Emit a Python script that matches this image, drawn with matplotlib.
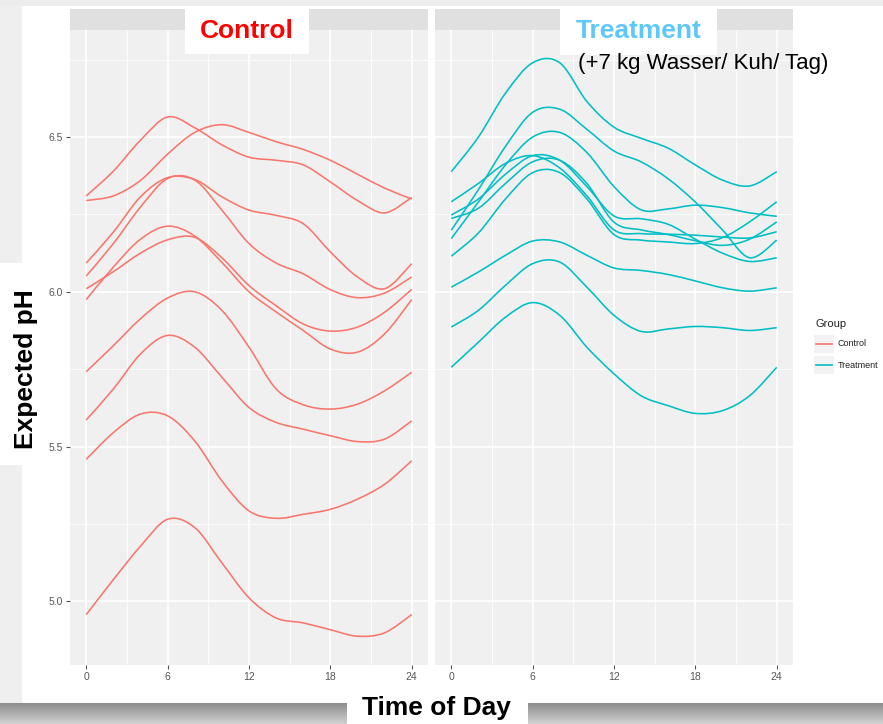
import numpy as np
import matplotlib
matplotlib.use('Agg')
import matplotlib.pyplot as plt
from matplotlib.patches import Rectangle, PathPatch
from matplotlib.lines import Line2D
from matplotlib.path import Path

plt.rcParams['font.family'] = ['Liberation Sans', 'DejaVu Sans']

# expected pH per cow, every 2 hours
hours = [0, 2, 4, 6, 8, 10, 12, 14, 16, 18, 20, 22, 24]

ctrl_1 = [6.31, 6.39, 6.49, 6.565, 6.53, 6.475, 6.435, 6.425, 6.41, 6.355, 6.295, 6.255, 6.305]
ctrl_2 = [6.295, 6.31, 6.36, 6.445, 6.515, 6.54, 6.515, 6.485, 6.46, 6.425, 6.38, 6.335, 6.30]
ctrl_3 = [6.093, 6.193, 6.307, 6.369, 6.363, 6.307, 6.264, 6.247, 6.22, 6.129, 6.048, 6.01, 6.091]
ctrl_4 = [6.051, 6.156, 6.274, 6.366, 6.361, 6.264, 6.156, 6.093, 6.058, 6.007, 5.981, 5.996, 6.048]
ctrl_5 = [6.01, 6.065, 6.125, 6.168, 6.176, 6.11, 6.02, 5.955, 5.896, 5.873, 5.886, 5.934, 6.008]
ctrl_6 = [5.975, 6.08, 6.17, 6.212, 6.18, 6.095, 6.0, 5.935, 5.875, 5.815, 5.805, 5.864, 5.975]
ctrl_7 = [5.742, 5.826, 5.913, 5.98, 6.0, 5.94, 5.821, 5.686, 5.635, 5.621, 5.637, 5.68, 5.74]
ctrl_8 = [5.586, 5.686, 5.799, 5.859, 5.821, 5.724, 5.626, 5.578, 5.556, 5.535, 5.516, 5.524, 5.583]
ctrl_9 = [5.459, 5.545, 5.605, 5.599, 5.518, 5.389, 5.292, 5.268, 5.281, 5.297, 5.33, 5.378, 5.454]
ctrl_10 = [4.957, 5.07, 5.178, 5.265, 5.238, 5.124, 5.011, 4.946, 4.93, 4.908, 4.887, 4.898, 4.957]

trt_1 = [6.388, 6.50, 6.642, 6.74, 6.74, 6.615, 6.532, 6.496, 6.464, 6.41, 6.361, 6.342, 6.388]
trt_2 = [6.199, 6.33, 6.47, 6.58, 6.59, 6.525, 6.455, 6.42, 6.365, 6.29, 6.20, 6.11, 6.167]
trt_3 = [6.172, 6.29, 6.41, 6.50, 6.515, 6.45, 6.34, 6.265, 6.268, 6.28, 6.272, 6.255, 6.244]
trt_4 = [6.291, 6.35, 6.415, 6.44, 6.40, 6.31, 6.20, 6.188, 6.186, 6.183, 6.177, 6.174, 6.194]
trt_5 = [6.248, 6.30, 6.38, 6.44, 6.425, 6.34, 6.245, 6.236, 6.218, 6.17, 6.125, 6.098, 6.110]
trt_6 = [6.237, 6.27, 6.35, 6.42, 6.425, 6.35, 6.225, 6.20, 6.185, 6.165, 6.15, 6.17, 6.226]
trt_7 = [6.115, 6.19, 6.30, 6.385, 6.385, 6.30, 6.185, 6.167, 6.161, 6.156, 6.175, 6.226, 6.291]
trt_8 = [6.015, 6.064, 6.118, 6.164, 6.161, 6.118, 6.077, 6.069, 6.056, 6.035, 6.013, 6.002, 6.013]
trt_9 = [5.886, 5.94, 6.021, 6.091, 6.096, 6.015, 5.924, 5.872, 5.88, 5.888, 5.884, 5.875, 5.884]
trt_10 = [5.756, 5.837, 5.918, 5.965, 5.924, 5.821, 5.735, 5.664, 5.632, 5.607, 5.616, 5.664, 5.756]

control = [ctrl_1, ctrl_2, ctrl_3, ctrl_4, ctrl_5, ctrl_6, ctrl_7, ctrl_8, ctrl_9, ctrl_10]
treatment = [trt_1, trt_2, trt_3, trt_4, trt_5, trt_6, trt_7, trt_8, trt_9, trt_10]

red = '#F8766D'
teal = '#00BFC4'

W, H = 883, 724
fig = plt.figure(figsize=(W / 100, H / 100), dpi=100)


def box(x0, y0, x1, y1):
    # pixel box (top-left origin) -> figure fraction rect
    return [x0 / W, 1 - y1 / H, (x1 - x0) / W, (y1 - y0) / H]


def fig_rect(x0, y0, x1, y1, color, z):
    r = box(x0, y0, x1, y1)
    fig.patches.append(Rectangle((r[0], r[1]), r[2], r[3], transform=fig.transFigure,
                                 facecolor=color, edgecolor='none', zorder=z))


def smooth_path(x, y):
    # bezier path through the read points (catmull-rom style handles)
    x = np.asarray(x, float)
    y = np.asarray(y, float)
    n = len(x)
    verts = [(x[0], y[0])]
    codes = [Path.MOVETO]
    for i in range(n - 1):
        a = max(i - 1, 0)
        b = min(i + 2, n - 1)
        c1 = (x[i] + (x[i + 1] - x[a]) / 6, y[i] + (y[i + 1] - y[a]) / 6)
        c2 = (x[i + 1] - (x[b] - x[i]) / 6, y[i + 1] - (y[b] - y[i]) / 6)
        verts += [c1, c2, (x[i + 1], y[i + 1])]
        codes += [Path.CURVE4] * 3
    return Path(verts, codes)


# slide background bits (shadow at left and top)
fig_rect(0, 0, 22, H, '#efefef', -2)
fig_rect(0, 0, W, 6, '#ececec', -2)

panels = [(70, 428, control, red), (435, 793, treatment, teal)]
for i, (x0, x1, curves, col) in enumerate(panels):
    ax = fig.add_axes(box(x0, 30, x1, 665))
    ax.set_facecolor('#f0f0f0')
    for c in curves:
        ax.add_patch(PathPatch(smooth_path(hours, c), facecolor='none',
                               edgecolor=col, lw=1.15))
    ax.set_xlim(-1.2, 25.2)
    ax.set_ylim(4.794, 6.846)
    ax.set_xticks([0, 6, 12, 18, 24])
    ax.set_xticks([3, 9, 15, 21], minor=True)
    ax.set_yticks([5.0, 5.5, 6.0, 6.5])
    ax.set_yticks([5.25, 5.75, 6.25, 6.75], minor=True)
    ax.set_yticklabels(['5.0', '5.5', '6.0', '6.5'])
    ax.grid(which='major', color='white', lw=1.2)
    ax.grid(which='minor', color='white', lw=0.6)
    ax.set_axisbelow(True)
    for s in ax.spines.values():
        s.set_visible(False)
    ax.tick_params(which='major', length=3, width=0.8, color='#555555',
                   labelsize=7.5, labelcolor='#555555', pad=2)
    ax.tick_params(which='minor', length=0)
    if i == 1:
        ax.tick_params(axis='y', which='major', length=0, labelleft=False)

    strip = fig.add_axes(box(x0, 9, x1, 30))
    strip.set_facecolor('#e0e0e0')
    strip.set_xticks([])
    strip.set_yticks([])
    for s in strip.spines.values():
        s.set_visible(False)

# legend
fig.text(815 / W, 1 - 324 / H, 'Group', fontsize=8, color='#222222', va='center')
for k, (lab, col) in enumerate([('Control', red), ('Treatment', teal)]):
    yc = 344 + k * 21
    fig_rect(814, yc - 9, 834, yc + 9, '#f2f2f2', 1)
    fig.lines.append(Line2D([816 / W, 832 / W], [1 - yc / H, 1 - yc / H],
                            transform=fig.transFigure, color=col, lw=1.2, zorder=2))
    fig.text(838 / W, 1 - yc / H, lab, fontsize=6.5, color='#222222', va='center')

# bottom shadow bars
grad = np.linspace(0.55, 0.82, 50).reshape(-1, 1)
for bx0, bx1 in [(0, 347), (528, W)]:
    gax = fig.add_axes(box(bx0, 703, bx1, H))
    gax.imshow(grad, cmap='gray', vmin=0, vmax=1, aspect='auto', extent=[0, 1, 0, 1])
    gax.axis('off')

# overlay label boxes
fig_rect(185, 9, 309, 54, 'white', 2)
fig_rect(560, 9, 717, 55, 'white', 2)
fig_rect(0, 263, 44, 465, 'white', 2)

fig.text(247 / W, 1 - 31 / H, 'Control', color='#ff0000', fontsize=19,
         fontweight='bold', ha='center', va='center', zorder=3)
fig.text(576 / W, 1 - 31 / H, 'Treatment', color='#5ec8f8', fontsize=19,
         fontweight='bold', ha='left', va='center', zorder=3)
fig.text(578 / W, 1 - 63 / H, '(+7 kg Wasser/ Kuh/ Tag)', color='black', fontsize=16,
         ha='left', va='center', zorder=3)
fig.text(26 / W, 1 - 369 / H, 'Expected pH', rotation=90, fontsize=19,
         fontweight='bold', ha='center', va='center', zorder=3)
fig.text(436 / W, 1 - 708 / H, 'Time of Day', fontsize=19, fontweight='bold',
         ha='center', va='center', zorder=3)

fig.savefig('out.png', dpi=100, facecolor='white')
